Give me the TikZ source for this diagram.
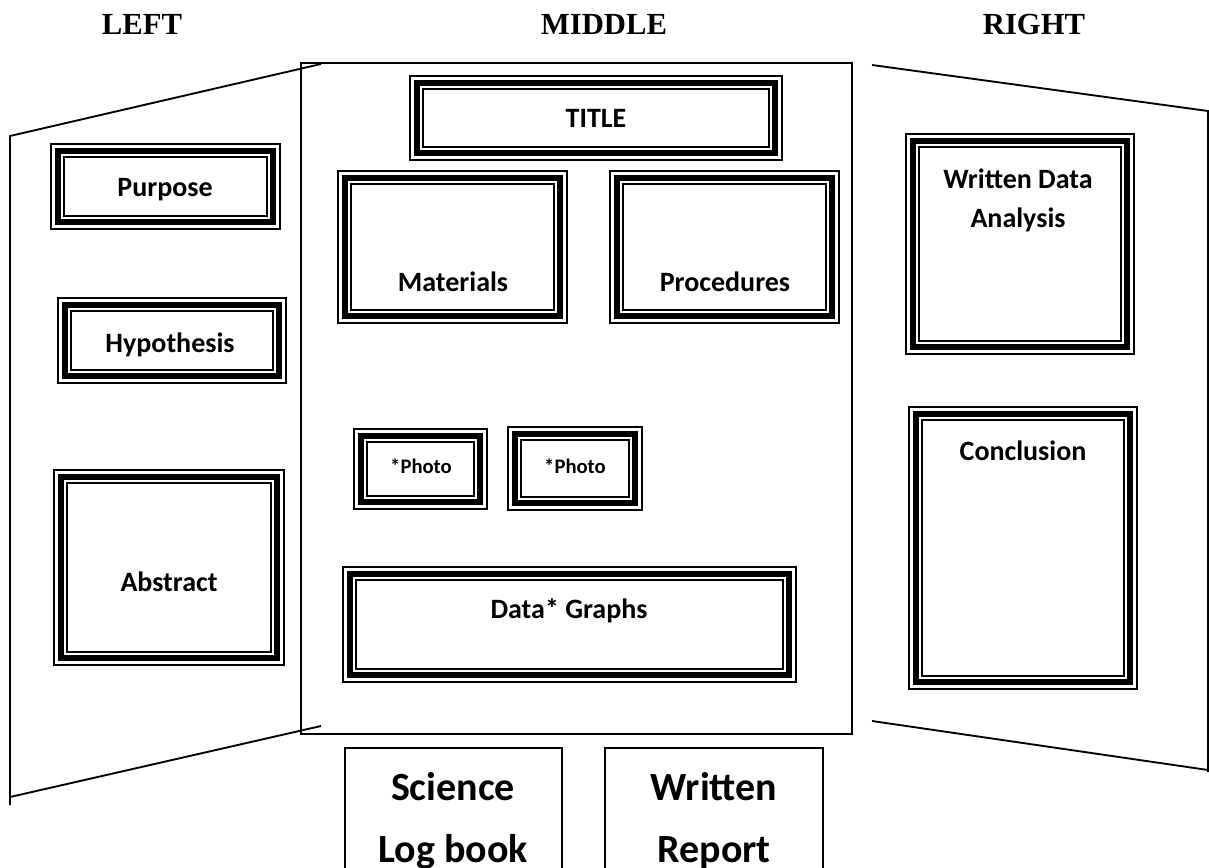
\documentclass[tikz,border=0pt]{standalone}
\usepackage{fontspec}
\setmainfont{Liberation Serif}
\newfontfamily\lblfont{Carlito}
\newcommand\tribox[4]{%
  \draw[line width=1.3pt] (#1+0.9,#2+0.9) rectangle (#3-0.9,#4-0.9);
  \draw[line width=4.6pt] (#1+7.6,#2+7.6) rectangle (#3-7.6,#4-7.6);
  \draw[line width=1.6pt] (#1+13.8,#2+13.8) rectangle (#3-13.8,#4-13.8);
}
\begin{document}
\begin{tikzpicture}[x=0.75pt,y=-0.75pt,
  panel/.style={line width=1.4pt},
  head/.style={anchor=base,inner sep=0pt,font=\bfseries\fontsize{23}{27}\selectfont},
  lbl/.style={anchor=base,inner sep=0pt,font=\lblfont\bfseries\fontsize{21}{29}\selectfont},
  small/.style={anchor=base,inner sep=0pt,font=\lblfont\bfseries\fontsize{15.5}{19}\selectfont},
  big/.style={anchor=base,inner sep=0pt,font=\lblfont\bfseries\fontsize{30}{36}\selectfont},
  plain/.style={line width=1.4pt}]
\useasboundingbox (0,0) rectangle (1209,867);
\clip (0,0) rectangle (1209,867);
% headers
\node[head] (hl) at (142,35) {LEFT};
\node[head] (hm) at (604,35) {MIDDLE};
\node[head] (hr) at (1034,35) {RIGHT};
% left panel
\coordinate (lt1) at (10,136);
\coordinate (lt2) at (321,64);
\coordinate (lb1) at (10,797);
\coordinate (lb2) at (321,726);
\draw[panel] (lt2) -- (lt1) -- (10,805);
\draw[panel] (lb1) -- (lb2);
% middle panel
\draw[panel] (301,63) rectangle (852,734);
% right panel
\coordinate (rt1) at (872,65);
\coordinate (rt2) at (1208,111);
\coordinate (rb1) at (872,721);
\coordinate (rb2) at (1208,770);
\draw[panel] (rt1) -- (rt2) -- (1208,772);
\draw[panel] (rb1) -- (rb2);
% framed boxes
\tribox{50}{143}{281}{230}
\node[lbl] (purpose) at (165,196) {Purpose};
\tribox{57}{297}{287}{384}
\node[lbl] (hyp) at (170,352) {Hypothesis};
\tribox{53}{469}{285}{666}
\node[lbl] (abs) at (169,591) {Abstract};
\tribox{409}{75}{783}{161}
\node[lbl] (title) at (596,127) {TITLE};
\tribox{337}{170}{568}{324}
\node[lbl] (mat) at (453,291) {Materials};
\tribox{609}{170}{840}{324}
\node[lbl] (proc) at (725,291) {Procedures};
\tribox{353}{428}{488}{510}
\node[small] (ph1) at (421,473) {*Photo};
\tribox{507}{426}{643}{511}
\node[small] (ph2) at (575,473) {*Photo};
\tribox{342}{566}{797}{683}
\node[lbl] (data) at (569,618) {Data* Graphs};
\tribox{905}{133}{1135}{355}
\node[lbl] (wda1) at (1018,188) {Written Data};
\node[lbl] (wda2) at (1018,227) {Analysis};
\tribox{908}{406}{1138}{690}
\node[lbl] (conc) at (1023,460) {Conclusion};
% bottom boxes
\draw[plain] (345,900) -- (345,748) -- (562,748) -- (562,900);
\node[big] (sci1) at (453,800) {Science};
\node[big] (sci2) at (453,862) {Log book};
\draw[plain] (605,900) -- (605,748) -- (823,748) -- (823,900);
\node[big] (wr1) at (714,800) {Written};
\node[big] (wr2) at (714,862) {Report};
\end{tikzpicture}
\end{document}
